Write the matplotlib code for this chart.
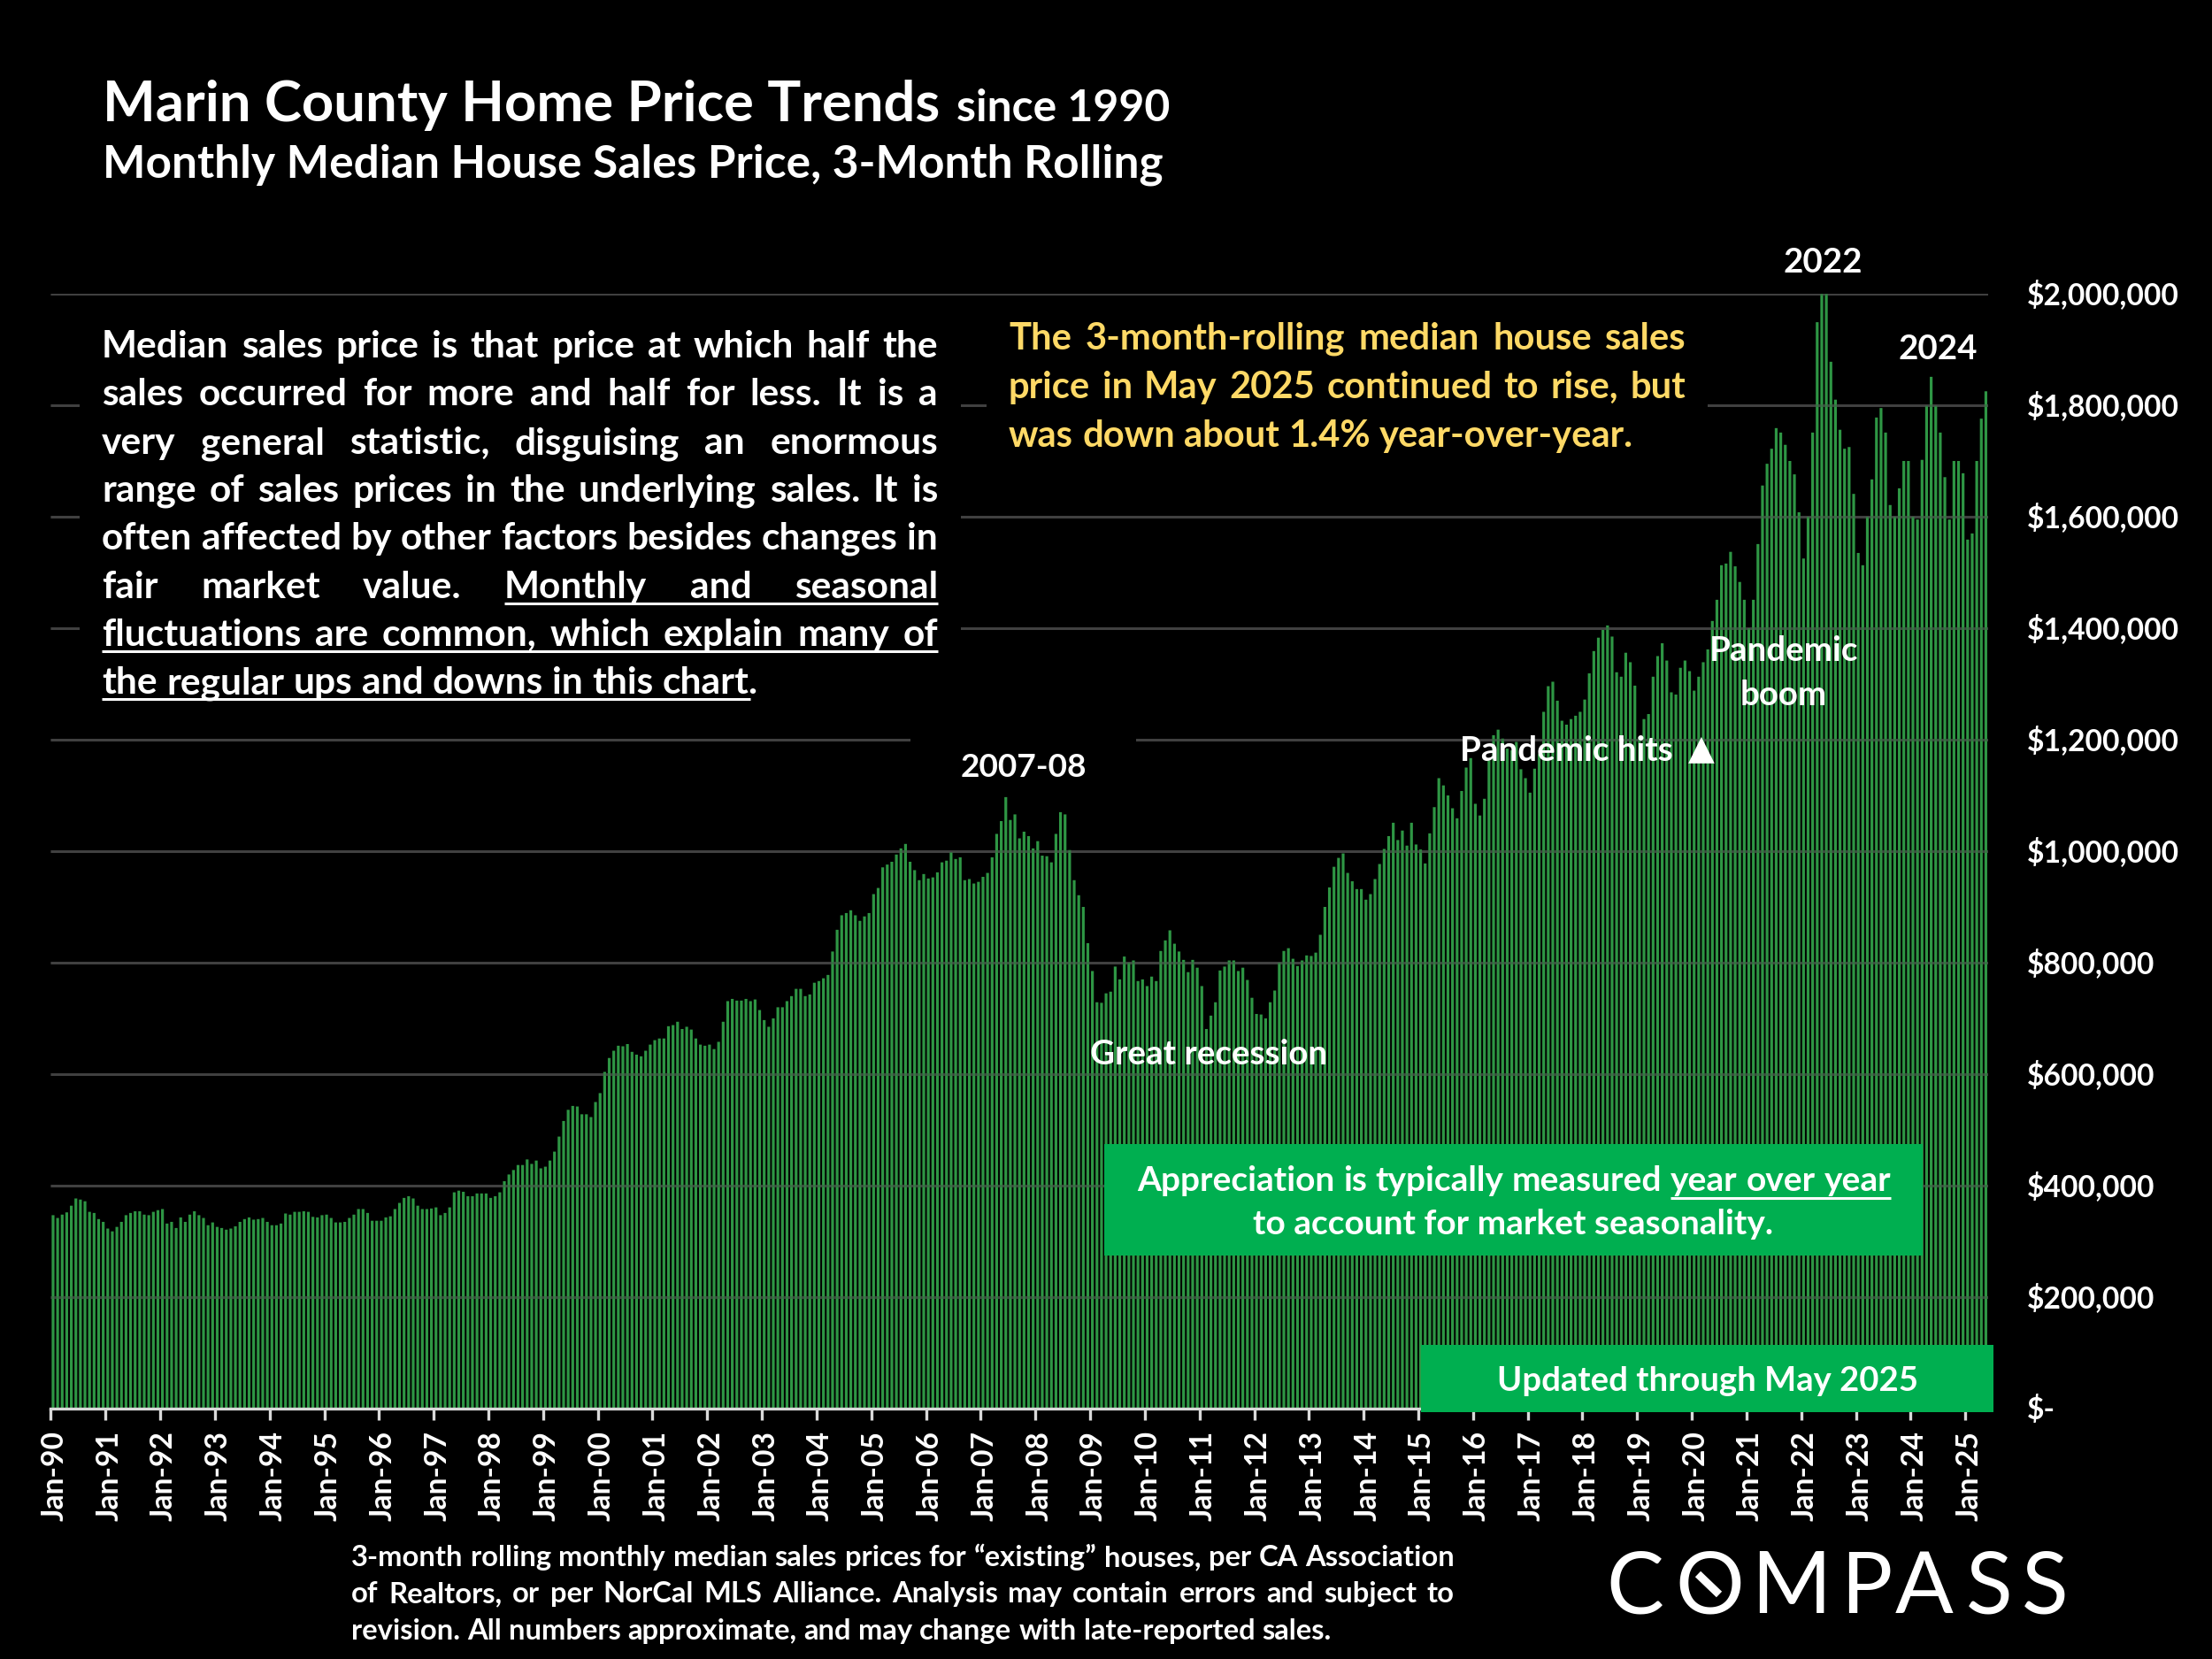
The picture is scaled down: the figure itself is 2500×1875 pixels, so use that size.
import matplotlib
matplotlib.use('Agg')
import matplotlib.pyplot as plt
from matplotlib.patches import Rectangle
from matplotlib.lines import Line2D
from matplotlib.transforms import ScaledTranslation

plt.rcParams['font.family'] = ['Lato', 'DejaVu Sans']
plt.rcParams['font.weight'] = 'bold'

# monthly median price, $ thousands
prices_1990s = [
    347, 342, 348, 352, 364, 377, 375, 372, 353, 351, 340, 335,
    323, 318, 326, 335, 347, 351, 354, 354, 348, 347, 353, 356,
    358, 332, 335, 324, 343, 335, 348, 354, 347, 342, 329, 334,
    326, 324, 321, 323, 327, 335, 340, 343, 339, 340, 342, 335,
    329, 329, 332, 350, 348, 353, 353, 354, 353, 344, 343, 347,
    348, 342, 334, 334, 335, 342, 348, 358, 358, 351, 337, 337,
    337, 343, 345, 358, 369, 378, 381, 377, 364, 358, 358, 359,
    361, 347, 351, 361, 388, 391, 389, 381, 381, 386, 386, 386,
    378, 381, 388, 408, 420, 428, 437, 437, 447, 439, 445, 431,
    434, 445, 461, 488, 516, 536, 543, 542, 528, 528, 523, 550,
]
prices_2000s = [
    566, 604, 629, 642, 651, 650, 654, 640, 635, 632, 642, 653,
    661, 664, 664, 686, 688, 694, 681, 685, 680, 664, 653, 651,
    653, 645, 658, 694, 731, 735, 732, 732, 735, 731, 734, 715,
    697, 685, 700, 720, 720, 731, 740, 753, 753, 740, 743, 764,
    767, 772, 778, 820, 859, 885, 889, 894, 885, 875, 883, 889,
    923, 934, 971, 976, 981, 994, 1005, 1013, 981, 966, 948, 959,
    951, 953, 962, 980, 983, 998, 986, 989, 948, 950, 942, 945,
    954, 961, 989, 1031, 1054, 1097, 1056, 1066, 1023, 1035, 1027, 1005,
    1018, 992, 991, 980, 1031, 1070, 1066, 1002, 948, 921, 900, 835,
    785, 729, 728, 745, 748, 793, 770, 811, 800, 804, 767, 770,
]
prices_2010s = [
    758, 775, 767, 821, 840, 858, 834, 820, 805, 783, 805, 791,
    758, 681, 705, 729, 786, 793, 804, 804, 785, 791, 769, 737,
    708, 707, 700, 729, 750, 800, 821, 826, 807, 794, 804, 813,
    812, 818, 850, 900, 935, 972, 988, 996, 961, 946, 932, 932,
    913, 923, 950, 977, 1004, 1027, 1051, 1020, 1037, 1010, 1051, 1012,
    1003, 978, 1032, 1079, 1131, 1118, 1100, 1077, 1059, 1108, 1150, 1167,
    1085, 1064, 1094, 1163, 1208, 1218, 1202, 1184, 1181, 1196, 1147, 1131,
    1105, 1148, 1174, 1250, 1296, 1304, 1270, 1234, 1227, 1237, 1243, 1250,
    1272, 1319, 1359, 1383, 1397, 1405, 1385, 1321, 1313, 1356, 1339, 1297,
    1205, 1237, 1246, 1313, 1350, 1373, 1342, 1285, 1281, 1329, 1342, 1323,
]
prices_2020s = [
    1288, 1313, 1339, 1362, 1413, 1451, 1513, 1516, 1537, 1511, 1483, 1451,
    1400, 1451, 1551, 1656, 1695, 1722, 1759, 1751, 1729, 1700, 1676, 1608,
    1525, 1600, 1751, 1949, 2000, 2000, 1878, 1810, 1756, 1722, 1725, 1641,
    1535, 1513, 1600, 1667, 1778, 1795, 1751, 1621, 1600, 1651, 1700, 1700,
    1600, 1595, 1702, 1799, 1851, 1799, 1751, 1671, 1595, 1700, 1700, 1678,
    1559, 1570, 1700, 1776, 1825,
]
tick_years = ['90', '91', '92', '93', '94', '95', '96', '97', '98', '99', '00', '01',
              '02', '03', '04', '05', '06', '07', '08', '09', '10', '11', '12', '13',
              '14', '15', '16', '17', '18', '19', '20', '21', '22', '23', '24', '25']
y_ticks = [0, 200000, 400000, 600000, 800000, 1000000, 1200000, 1400000, 1600000, 1800000, 2000000]

W, H = 2500, 1875
BAR = '#2e9644'
GRID = '#404040'
BOX = '#00af50'
YELLOW = '#ffd966'

prices = prices_1990s + prices_2000s + prices_2010s + prices_2020s
values = [p * 1000 for p in prices]

fig = plt.figure(figsize=(25, 18.75), dpi=100, facecolor='black')
ax = fig.add_axes([57.4 / W, 1 - 1592 / H, (2247 - 57.4) / W, (1592 - 332) / H], facecolor='black')
renderer = fig.canvas.get_renderer()


def fx(x):
    return x / W


def fy(y):
    return 1 - y / H


# tamanho de fonte (pt) para o texto ocupar a largura em pixels
def fit(text, width, weight='bold'):
    t = fig.text(0, 0, text, fontsize=100, fontweight=weight)
    w = t.get_window_extent(renderer).width
    t.remove()
    return 100 * width / w


def label(x, y, text, size, color='white', ha='left', va='baseline', **kw):
    return fig.text(fx(x), fy(y), text, fontsize=size, color=color, ha=ha, va=va, **kw)


# linha justificada, palavra por palavra; devolve as extensoes de cada palavra
def line(words, x0, x1, y, size, color='white', justify=True):
    arts = [label(x0, y, w, size, color) for w in words]
    widths = [a.get_window_extent(renderer).width for a in arts]
    if justify and len(words) > 1:
        gap = (x1 - x0 - sum(widths)) / (len(words) - 1)
    else:
        sp = label(0, 0, 'a a', size)
        sa = label(0, 0, 'aa', size)
        gap = sp.get_window_extent(renderer).width - sa.get_window_extent(renderer).width
        sp.remove()
        sa.remove()
    x = x0
    spans = []
    for a, w in zip(arts, widths):
        a.set_x(fx(x))
        spans.append((x, x + w))
        x += w + gap
    return spans


def rule(x0, x1, y, color='white', lw=2.2, zorder=4):
    fig.add_artist(Line2D([fx(x0), fx(x1)], [fy(y), fy(y)], color=color, lw=lw, zorder=zorder,
                          solid_capstyle='butt'))


def box(x0, y0, x1, y1, color):
    fig.add_artist(Rectangle((fx(x0), fy(y1)), (x1 - x0) / W, (y1 - y0) / H, facecolor=color,
                             edgecolor='none', zorder=2))


# barras e grade
xs = list(range(len(values)))
ax.hlines(y_ticks[1:], -0.5, len(values) - 0.5, color=GRID, lw=2.2, zorder=1)
bars = ax.bar(xs, values, width=0.62, color=BAR, linewidth=0, zorder=2)
for b in bars:
    b.set_snap(False)
ax.hlines(y_ticks[1:], -0.5, len(values) - 0.5, color=GRID, lw=2.2, alpha=0.35, zorder=3)

ax.set_xlim(-0.5, len(values) - 0.5)
ax.set_ylim(0, 2000000)
for s in ['top', 'left', 'right']:
    ax.spines[s].set_visible(False)
ax.spines['bottom'].set_color('#d9d9d9')
ax.spines['bottom'].set_linewidth(2.4)

ax.set_xticks([-0.5 + 12 * i for i in range(len(tick_years))])
ax.set_xticklabels(['Jan-' + y for y in tick_years], rotation=90, fontsize=fit('Jan-25', 102), color='white')
ax.tick_params(axis='x', color='#d9d9d9', width=2.4, length=9, pad=9)
offset = ScaledTranslation(4 / 100, 0, fig.dpi_scale_trans)
for t in ax.get_xticklabels():
    t.set_transform(t.get_transform() + offset)

ax.yaxis.tick_right()
ax.set_yticks(y_ticks)
ax.set_yticklabels(['$-' if v == 0 else f'${v:,}' for v in y_ticks], fontsize=fit('$2,000,000', 172), color='white')
ax.tick_params(axis='y', length=0, pad=31.5)
lift = ScaledTranslation(0, 2 / 100, fig.dpi_scale_trans)
for t in ax.get_yticklabels():
    t.set_transform(t.get_transform() + lift)

# blocos pretos atras dos textos
box(90, 360, 1086, 800, 'black')
box(1115, 360, 1930, 540, 'black')
box(1029, 800, 1284, 885, 'black')

# titulo
label(116, 137, 'Marin County Home Price Trends', fit('Marin County Home Price Trends', 946))
label(1081, 137, 'since 1990', fit('since 1990', 241))
label(116, 200, 'Monthly Median House Sales Price, 3-Month Rolling',
      fit('Monthly Median House Sales Price, 3-Month Rolling', 1197))

# texto da esquerda
para = [
    'Median sales price is that price at which half the',
    'sales occurred for more and half for less. It is a',
    'very general statistic, disguising an enormous',
    'range of sales prices in the underlying sales. It is',
    'often affected by other factors besides changes in',
    'fair market value. Monthly and seasonal',
    'fluctuations are common, which explain many of',
    'the regular ups and downs in this chart.',
]
para_y = [404, 458, 513, 567, 621, 676, 730, 784]
para_size = fit(para[-1], 741)
for i, (txt, y) in enumerate(zip(para, para_y)):
    spans = line(txt.split(), 115, 1060, y, para_size, justify=i < 7)
    if i == 5:
        rule(spans[3][0], spans[-1][1], y + 6)
    if i == 6:
        rule(spans[0][0], spans[-1][1], y + 6)
    if i == 7:
        rule(spans[0][0], spans[-1][1] - 9, y + 6)

# texto amarelo
yellow = [
    'The 3-month-rolling median house sales',
    'price in May 2025 continued to rise, but',
    'was down about 1.4% year-over-year.',
]
yellow_size = fit(yellow[-1], 706)
for i, (txt, y) in enumerate(zip(yellow, [395, 450, 505])):
    line(txt.split(), 1140, 1905, y, yellow_size, YELLOW, justify=i < 2)

# anotacoes
ann = fit('Great recession', 268)
label(2060, 308, '2022', ann, ha='center')
label(2190, 406, '2024', ann, ha='center')
label(1157, 878, '2007-08', ann * 0.96, ha='center')
label(1366, 1203, 'Great recession', ann, ha='center')
label(1650, 860, 'Pandemic hits', ann)
label(1923, 857, '\u25b2', 28, ha='center', family=['DejaVu Sans'])
label(2016, 747, 'Pandemic', ann, ha='center')
label(2016, 797, 'boom', ann, ha='center')

# caixas verdes
box(1248, 1293, 2173, 1419, BOX)
box(1606, 1520, 2253, 1596, BOX)
app1 = 'Appreciation is typically measured year over year'
app_size = fit(app1, 850)
spans = line(app1.split(), 1285, 2137, 1346, app_size)
rule(spans[4][0], spans[-1][1], 1354)
label(1710, 1395, 'to account for market seasonality.', app_size, ha='center')
label(1930, 1572, 'Updated through May 2025', fit('Updated through May 2025', 476), ha='center')

# rodape
foot = [
    '3-month rolling monthly median sales prices for \u201cexisting\u201d houses, per CA Association',
    'of Realtors, or per NorCal MLS Alliance. Analysis may contain errors and subject to',
    'revision. All numbers approximate, and may change with late-reported sales.',
]
foot_size = fit(foot[-1], 1109)
for i, (txt, y) in enumerate(zip(foot, [1770, 1811, 1853])):
    line(txt.split(), 397, 1644, y, foot_size, justify=i < 2)

# logo
logo_size = 70
for ch, x in zip('COMPASS', [1815, 1893, 1979, 2080, 2142, 2222, 2285]):
    label(x, 1823, ch, logo_size, fontweight='normal', fontfamily='Lato')
fig.add_artist(Line2D([fx(1919), fx(1943)], [fy(1779), fy(1802)], color='white', lw=6.5, zorder=4,
                      solid_capstyle='butt'))

fig.savefig('out.png', dpi=100, facecolor='black')
